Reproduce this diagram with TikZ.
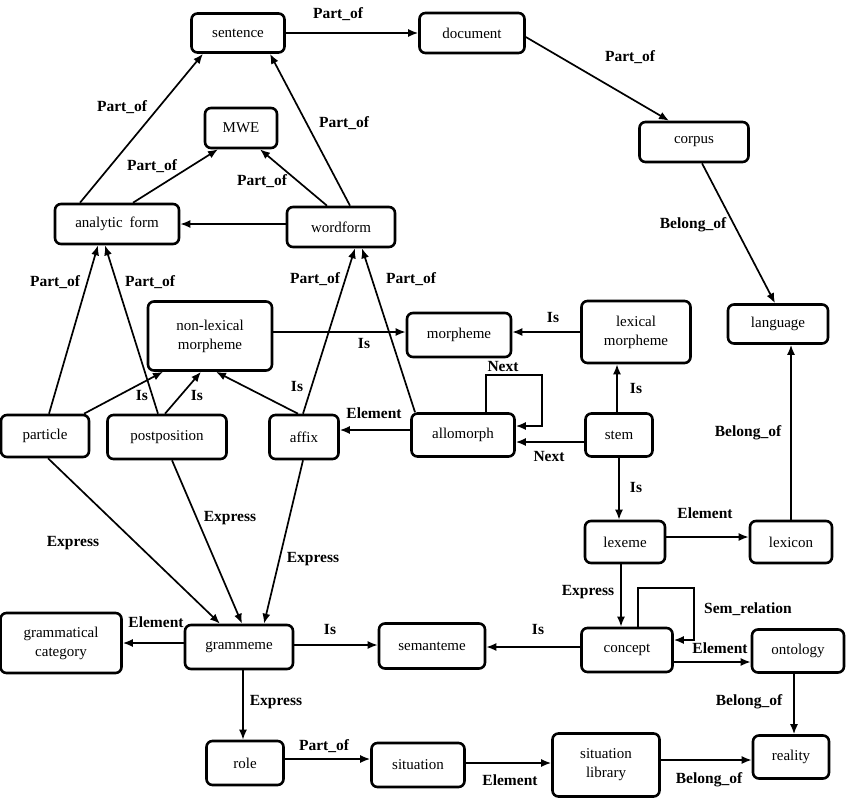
\documentclass[tikz,border=0pt]{standalone}
\usepackage{fontspec}
\setmainfont{Liberation Serif}
\usetikzlibrary{arrows.meta}
\tikzset{
  box/.style={draw, line width=2.6pt, rounded corners=6pt, align=center, inner sep=0pt, font=\fontsize{15}{19}\selectfont},
  wh/.style 2 args={minimum width=#1pt, minimum height=#2pt},
  lbl/.style={font=\fontsize{15.5}{18}\selectfont\bfseries, inner sep=0pt},
  arr/.style={-{Latex[length=10pt,width=8pt]}, line width=1.7pt},
  loopline/.style={-{Latex[length=10pt,width=8pt]}, line width=1.7pt, rounded corners=0pt},
}
\begin{document}
\begin{tikzpicture}[x=1pt,y=-1pt]
\useasboundingbox (0,0) rectangle (846,803);
% nodes
\node[box, wh={93}{39}]  (sentence)  at (238,33)  {sentence};
\node[box, wh={105}{40}] (document)  at (472,33)  {document};
\node[box, wh={109}{40}] (corpus)    at (694,142) {corpus};
\node[box, wh={72}{40}]  (mwe)       at (241,128) {MWE};
\node[box, wh={124}{40}] (analytic)  at (117,224) {analytic\hspace{0.45em}form};
\node[box, wh={108}{40}] (wordform)  at (341,227) {wordform};
\node[box, wh={100}{39}] (language)  at (778,324) {language};
\node[box, wh={104}{44}] (morpheme)  at (459,335) {morpheme};
\node[box, wh={109}{62}] (lexmorph)  at (636,332) {lexical\\morpheme};
\node[box, wh={124}{69}] (nonlex)    at (210,336) {non-lexical\\morpheme};
\node[box, wh={103}{43}] (allomorph) at (463,435) {allomorph};
\node[box, wh={67}{43}]  (stem)      at (619,435) {stem};
\node[box, wh={88}{42}]  (particle)  at (45,436)  {particle};
\node[box, wh={119}{44}] (postpos)   at (167,437) {postposition};
\node[box, wh={69}{44}]  (affix)     at (304,437) {affix};
\node[box, wh={80}{42}]  (lexeme)    at (625,542) {lexeme};
\node[box, wh={82}{42}]  (lexicon)   at (791,542) {lexicon};
\node[box, wh={91}{44}]  (concept)   at (627,650) {concept};
\node[box, wh={92}{43}]  (ontology)  at (798,651) {ontology};
\node[box, wh={76}{43}]  (reality)   at (791,757) {reality};
\node[box, wh={107}{63}] (sitlib)    at (606,765) {situation\\library};
\node[box, wh={121}{60}] (gramcat)   at (61,643)  {grammatical\\category};
\node[box, wh={108}{44}] (grammeme)  at (239,647) {grammeme};
\node[box, wh={77}{44}]  (role)      at (245,763) {role};
\node[box, wh={93}{44}]  (situation) at (418,765) {situation};
\node[box, wh={106}{45}] (semanteme) at (432,646) {semanteme};
% helper coordinates for loops
\coordinate (nexttop) at (542,375);
\coordinate (semtop)  at (694,588);
% connectors
\draw[arr] (sentence.east) -- (document.west);
\draw[arr] ([yshift=-4pt]document.east) -- ([xshift=-25pt]corpus.north);
\draw[arr] ([xshift=8pt]corpus.south) -- ([xshift=-3pt]language.north);
\draw[arr] ([xshift=-37pt]analytic.north) -- ([xshift=-35pt]sentence.south);
\draw[arr] ([xshift=9pt]wordform.north) -- ([xshift=32pt]sentence.south);
\draw[arr] ([xshift=16pt]analytic.north) -- ([xshift=-23pt]mwe.south);
\draw[arr] ([xshift=-14pt]wordform.north) -- ([xshift=19pt]mwe.south);
\draw[arr] (wordform.west |- analytic.east) -- (analytic.east);
\draw[arr] ([xshift=4pt]particle.north) -- ([xshift=-19pt]analytic.south);
\draw[arr] ([xshift=-9pt]postpos.north) -- ([xshift=-12pt]analytic.south);
\draw[arr] ([xshift=-1pt]affix.north) -- ([xshift=14pt]wordform.south);
\draw[arr] ([xshift=-48pt]allomorph.north) -- ([xshift=21pt]wordform.south);
\draw[arr] ([yshift=4pt]nonlex.east) -- ([yshift=4pt]nonlex.east -| morpheme.west);
\draw[arr] (lexmorph.west) -- (lexmorph.west -| morpheme.east);
\draw[arr] ([xshift=39pt]particle.north) -- ([xshift=-47pt]nonlex.south);
\draw[arr] ([xshift=-2pt]postpos.north) -- ([xshift=-9pt]nonlex.south);
\draw[arr] ([xshift=-6pt]affix.north) -- ([xshift=6pt]nonlex.south);
\draw[loopline] ([xshift=23pt]allomorph.north) |- (nexttop) |- ([yshift=9pt]allomorph.east);
\draw[arr] ([yshift=-7pt]stem.west) -- ([yshift=-7pt]allomorph.east);
\draw[arr] ([xshift=-2pt]stem.north) -- ([xshift=-2pt]stem.north |- lexmorph.south);
\draw[arr] ([yshift=5pt]allomorph.west) -- ([yshift=5pt]allomorph.west -| affix.east);
\draw[arr] (stem.south) -- (stem.south |- lexeme.north);
\draw[arr] ([yshift=5pt]lexeme.east) -- ([yshift=5pt]lexeme.east -| lexicon.west);
\draw[arr] (lexicon.north) -- (lexicon.north |- language.south);
\draw[arr] ([xshift=-4pt]lexeme.south) -- ([xshift=-4pt]lexeme.south |- concept.north);
\draw[loopline] ([xshift=11pt]concept.north) |- (semtop) |- ([yshift=10pt]concept.east);
\draw[arr] ([yshift=-12pt]concept.east) -- ([yshift=-12pt]concept.east -| ontology.west);
\draw[arr] ([xshift=-4pt]ontology.south) -- ([xshift=-4pt]ontology.south |- reality.north);
\draw[arr] ([yshift=5pt]sitlib.east) -- ([yshift=5pt]sitlib.east -| reality.west);
\draw[arr] ([yshift=2pt]situation.east) -- ([yshift=2pt]situation.east -| sitlib.west);
\draw[arr] ([yshift=4pt]role.east) -- ([yshift=4pt]role.east -| situation.west);
\draw[arr] ([xshift=4pt]grammeme.south) -- ([xshift=4pt]grammeme.south |- role.north);
\draw[arr] ([yshift=4pt]grammeme.west) -- ([yshift=4pt]grammeme.west -| gramcat.east);
\draw[arr] ([yshift=2pt]grammeme.east) -- ([yshift=2pt]grammeme.east -| semanteme.west);
\draw[arr] ([yshift=3pt]concept.west) -- ([yshift=3pt]concept.west -| semanteme.east);
\draw[arr] ([xshift=3pt]particle.south) -- ([xshift=-19pt]grammeme.north);
\draw[arr] ([xshift=5pt]postpos.south) -- ([xshift=3pt]grammeme.north);
\draw[arr] ([xshift=-1pt]affix.south) -- ([xshift=25pt]grammeme.north);
% labels
\node[lbl] (l01) at (338,14)  {Part\_of};
\node[lbl] (l02) at (630,57)  {Part\_of};
\node[lbl] (l03) at (693,225) {Belong\_of};
\node[lbl] (l04) at (122,107) {Part\_of};
\node[lbl] (l05) at (344,123) {Part\_of};
\node[lbl] (l06) at (152,166) {Part\_of};
\node[lbl] (l07) at (262,181) {Part\_of};
\node[lbl] (l08) at (55,282)  {Part\_of};
\node[lbl] (l09) at (150,282) {Part\_of};
\node[lbl] (l10) at (315,279) {Part\_of};
\node[lbl] (l11) at (411,279) {Part\_of};
\node[lbl] (l12) at (364,343) {Is};
\node[lbl] (l13) at (553,317) {Is};
\node[lbl] (l14) at (142,395) {Is};
\node[lbl] (l15) at (197,395) {Is};
\node[lbl] (l16) at (297,386) {Is};
\node[lbl] (l17) at (374,413) {Element};
\node[lbl] (l18) at (503,366) {Next};
\node[lbl] (l19) at (549,456) {Next};
\node[lbl] (l20) at (636,388) {Is};
\node[lbl] (l21) at (636,487) {Is};
\node[lbl] (l22) at (705,513) {Element};
\node[lbl] (l23) at (748,433) {Belong\_of};
\node[lbl] (l24) at (588,592) {Express};
\node[lbl] (l25) at (748,609) {Sem\_relation};
\node[lbl] (l26) at (720,648) {Element};
\node[lbl] (l27) at (749,702) {Belong\_of};
\node[lbl] (l28) at (709,780) {Belong\_of};
\node[lbl] (l29) at (510,780) {Element};
\node[lbl] (l30) at (324,746) {Part\_of};
\node[lbl] (l31) at (276,702) {Express};
\node[lbl] (l32) at (156,622) {Element};
\node[lbl] (l33) at (330,629) {Is};
\node[lbl] (l34) at (538,629) {Is};
\node[lbl] (l35) at (73,543)  {Express};
\node[lbl] (l36) at (230,518) {Express};
\node[lbl] (l37) at (313,559) {Express};
\end{tikzpicture}
\end{document}
